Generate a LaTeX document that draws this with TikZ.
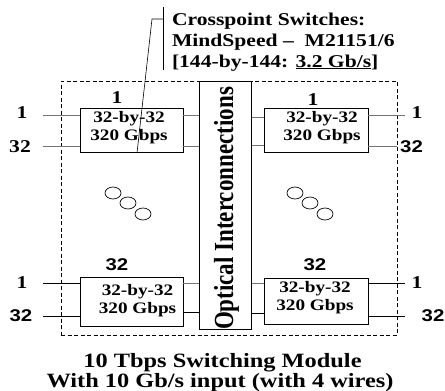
\documentclass[tikz,border=0pt]{standalone}
\usepackage{fontspec}
\setmainfont{Liberation Serif}
\newfontfamily\hserif[FakeStretch=1.2]{Liberation Serif}
\newfontfamily\hsans[FakeStretch=1.2]{Liberation Sans}
\newfontfamily\vserif[FakeStretch=0.833]{Liberation Serif}
\usetikzlibrary{shapes.geometric}
\begin{document}
\begin{tikzpicture}[x=1pt,y=-1pt,
  every node/.style={inner sep=0pt, outer sep=0pt},
  swbox/.style={draw=black, line width=0.8pt, minimum width=103pt},
  boxtxt/.style={align=center, font=\hserif\bfseries\fontsize{16}{18}\selectfont},
  serlbl/.style={font=\hserif\bfseries\fontsize{18}{18}\selectfont},
  sanlbl/.style={font=\hsans\bfseries\fontsize{17}{17}\selectfont},
  note/.style={anchor=base west, font=\hserif\bfseries\fontsize{18}{21}\selectfont},
  title/.style={anchor=base, font=\hserif\bfseries\fontsize{20.3}{20}\selectfont},
  conn/.style={draw=black!55, line width=0.8pt},
  connk/.style={draw=black, line width=0.8pt},
  bubble/.style={draw=black, line width=0.7pt, ellipse, minimum width=16pt, minimum height=12pt}
]
\useasboundingbox (0,0) rectangle (445,391);

% dashed module frame
\node[draw=black, line width=0.8pt, dash pattern=on 4pt off 2.5pt,
      minimum width=336pt, minimum height=254pt] (module) at (229,208) {};

% optical interconnection bar
\node[draw=black, fill=white, line width=0.8pt, minimum width=52.5pt, minimum height=248pt] (opt) at (225.25,205) {};
\node[rotate=90, anchor=base, font=\vserif\bfseries\fontsize{27.6}{27.6}\selectfont] (optt) at (233,208.5) {Optical Interconnections};

% switch boxes
\node[swbox, minimum height=44pt] (tl) at (131.5,130) {};
\node[swbox, minimum width=104pt, minimum height=44pt] (tr) at (316,130) {};
\node[swbox, minimum height=49pt] (bl) at (131.5,301.5) {};
\node[swbox, minimum width=104pt, minimum height=46pt] (br) at (316,301) {};

\node[boxtxt] (tlt) at (129,128) {32-by-32\\320 Gbps};
\node[boxtxt] (trt) at (322,128) {32-by-32\\320 Gbps};
\node[boxtxt] (blt) at (137.5,301) {32-by-32\\320 Gbps};
\node[boxtxt] (brt) at (315,298) {32-by-32\\320 Gbps};

% top row connectors
\coordinate (inA1) at (43,115);
\coordinate (inA2) at (43,146);
\coordinate (outA1) at (405,115);
\coordinate (outA2) at (397,146);
\draw[conn] (inA1) -- (inA1 -| tl.west);
\draw[conn] (inA2) -- (inA2 -| tl.west);
\draw[conn] (tl.east |- inA1) -- (opt.west |- inA1);
\draw[conn] (tl.east |- inA2) -- (opt.west |- inA2);
\draw[conn] (opt.east |- 0,117) -- (tr.west |- 0,117);
\draw[conn] (opt.east |- 0,145) -- (tr.west |- 0,145);
\draw[conn] (tr.east |- outA1) -- (outA1);
\draw[conn] (tr.east |- outA2) -- (outA2);

% bottom row connectors
\coordinate (inB1) at (43,283);
\coordinate (inB2) at (43,316);
\coordinate (outB1) at (405,283);
\coordinate (outB2) at (405,316);
\draw[connk] (inB1) -- (inB1 -| bl.west);
\draw[connk] (inB2) -- (inB2 -| bl.west);
\draw[conn] (bl.east |- 0,283) -- (opt.west |- 0,283);
\draw[connk] (bl.east |- 0,312) -- (opt.west |- 0,312);
\draw[conn] (opt.east |- 0,283) -- (br.west |- 0,283);
\draw[connk] (opt.east |- 0,313) -- (br.west |- 0,313);
\draw[connk] (br.east |- outB1) -- (outB1);
\draw[connk] (br.east |- outB2) -- (outB2);

% port labels
\node[serlbl] (l1a) at (22,113) {1};
\node[serlbl] (l32a) at (20,147) {32};
\node[serlbl] (r1a) at (417,113) {1};
\node[sanlbl] (r32a) at (411.5,147) {32};
\node[serlbl] (l1b) at (22,283) {1};
\node[sanlbl] (l32b) at (21,316) {32};
\node[serlbl] (r1b) at (417,283) {1};
\node[sanlbl] (r32b) at (433,316) {32};
\node[serlbl] (tl1) at (117,98) {1};
\node[serlbl] (tr1) at (313,100) {1};
\node[sanlbl] (bl32) at (117,265) {32};
\node[sanlbl] (br32) at (315,265) {32};

% ellipsis bubbles
\node[bubble] (c1) at (113,193) {};
\node[bubble] (c2) at (128,203) {};
\node[bubble] (c3) at (143,214) {};
\node[bubble] (c4) at (295,193) {};
\node[bubble] (c5) at (310,203) {};
\node[bubble] (c6) at (325,214) {};

% callout
\coordinate (barT) at (163,7);
\coordinate (barB) at (163,70);
\coordinate (knee) at (152,19);
\coordinate (ptr) at (137,153);
\draw[black, line width=0.6pt] (barT) -- (barB);
\draw[black, line width=0.6pt] (knee -| barT) -- (knee) -- (ptr);
\node[note] (cp1) at (172,25) {Crosspoint Switches:};
\node[note] (cp2) at (172,46) {MindSpeed –\ \ M21151/6};
\node[note] (cp3) at (172,67) {{[}144-by-144: \underline{3.2 Gb/s}{]}};

% title
\node[title] (t1) at (222.5,367) {10 Tbps Switching Module};
\node[title] (t2) at (220,387) {With 10 Gb/s input (with 4 wires)};
\end{tikzpicture}
\end{document}
